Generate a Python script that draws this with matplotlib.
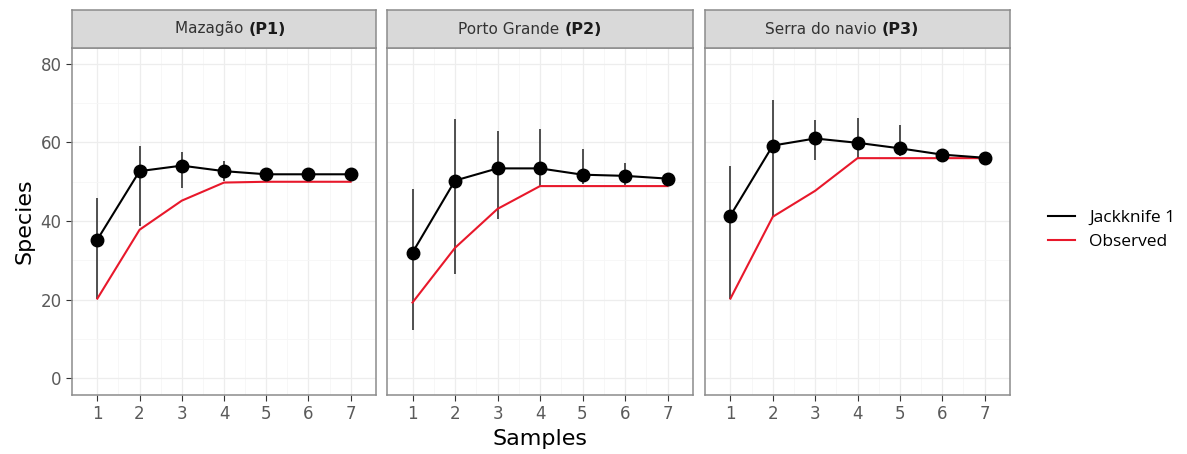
import numpy as np
import matplotlib.pyplot as plt
from matplotlib.lines import Line2D

samples = [1, 2, 3, 4, 5, 6, 7]

site_names = ["Mazagão", "Porto Grande", "Serra do navio"]
site_codes = ["(P1)", "(P2)", "(P3)"]

# Jackknife 1 estimates and their error bar limits
jack = [
    [35.3, 52.7, 54.1, 52.7, 51.9, 51.9, 51.9],
    [32.0, 50.3, 53.4, 53.4, 51.8, 51.5, 50.8],
    [41.4, 59.2, 61.0, 59.9, 58.5, 56.9, 56.1],
]
jack_low = [
    [20.3, 38.8, 48.3, 50.2, 51.0, 51.2, 51.5],
    [12.2, 26.6, 40.6, 49.0, 49.4, 49.2, 50.0],
    [20.3, 41.4, 55.6, 56.0, 56.5, 55.9, 56.0],
]
jack_high = [
    [46.0, 59.0, 57.5, 55.4, 52.8, 52.6, 52.3],
    [48.2, 66.0, 62.8, 63.4, 58.4, 54.8, 51.6],
    [54.0, 70.8, 65.8, 66.2, 64.5, 57.9, 56.2],
]

# observed species richness
observed = [
    [20.3, 37.8, 45.2, 49.8, 50.0, 50.0, 50.0],
    [19.3, 33.2, 43.1, 48.9, 48.9, 48.9, 48.9],
    [20.3, 41.1, 47.7, 56.0, 56.0, 56.0, 56.0],
]

fig = plt.figure(figsize=(11.87, 4.54), dpi=100)

lefts = [72, 387, 705]
rights = [376, 693, 1010]
W, H = 1187, 454
bot, top, strip_top = 395, 48, 10

tick_col = "#5A5A5A"
for i in range(3):
    x0 = lefts[i] / W
    w = (rights[i] - lefts[i]) / W
    ax = fig.add_axes([x0, 1 - bot / H, w, (bot - top) / H])
    ax.set_xlim(0.4, 7.6)
    ax.set_ylim(-4.2, 84)
    ax.set_xticks(samples)
    ax.set_yticks([0, 20, 40, 60, 80])
    ax.set_xticks(np.arange(1.5, 7, 1), minor=True)
    ax.set_yticks([10, 30, 50, 70], minor=True)
    ax.grid(which="major", color="#EDEDED", lw=0.9)
    ax.grid(which="minor", color="#F6F6F6", lw=0.6)
    ax.set_axisbelow(True)
    ax.tick_params(which="minor", length=0)
    ax.tick_params(which="major", length=4, color="#333333", labelsize=12,
                   labelcolor=tick_col, width=0.8)
    for s in ax.spines.values():
        s.set_color("#8C8C8C")
        s.set_linewidth(1.1)
    if i > 0:
        ax.set_yticklabels([])
        ax.tick_params(axis="y", length=0)
    else:
        ax.set_ylabel("Species", fontsize=16, labelpad=4)
    if i == 1:
        ax.set_xlabel("Samples", fontsize=16, labelpad=4)

    ax.vlines(samples, jack_low[i], jack_high[i], color="#333333", lw=1.2, zorder=2)
    ax.plot(samples, observed[i], color="#E8182B", lw=1.5, zorder=3)
    ax.plot(samples, jack[i], color="black", lw=1.5, marker="o", ms=9, zorder=4)

    # facet strip
    sax = fig.add_axes([x0, 1 - top / H, w, (top - strip_top) / H])
    sax.set_xticks([])
    sax.set_yticks([])
    sax.set_facecolor("#D9D9D9")
    for s in sax.spines.values():
        s.set_color("#8C8C8C")
        s.set_linewidth(1.1)
    sax.text(0.58, 0.5, site_names[i] + " ", ha="right", va="center",
             fontsize=11, color="#333333", transform=sax.transAxes)
    sax.text(0.58, 0.5, site_codes[i], ha="left", va="center",
             fontsize=11.5, color="#1A1A1A", fontweight="bold", transform=sax.transAxes)

handles = [Line2D([], [], color="black", lw=1.5),
           Line2D([], [], color="#E8182B", lw=1.5)]
fig.legend(handles, ["Jackknife 1", "Observed"], loc="center left",
           bbox_to_anchor=(1032 / W, 1 - 230 / H), frameon=False,
           prop={"family": "Open Sans", "size": 12.5}, handlelength=1.6,
           labelspacing=0.45)

fig.savefig("out.png", dpi=100)
